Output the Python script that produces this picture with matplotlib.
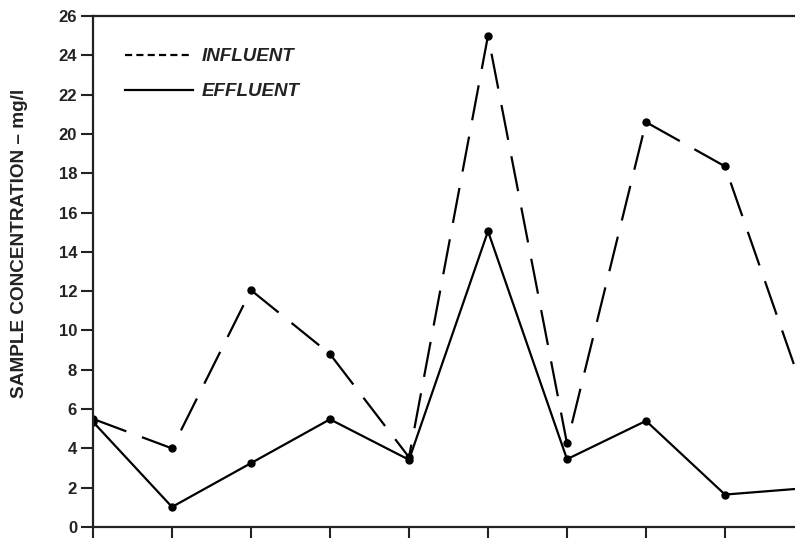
import matplotlib
matplotlib.use("Agg")
import matplotlib.pyplot as plt
from matplotlib.lines import Line2D

plt.rcParams['font.family'] = ['Liberation Sans', 'DejaVu Sans']

samples = [0, 1, 2, 3, 4, 5, 6, 7, 8, 9]
influent = [5.5, 4.0, 12.05, 8.8, 3.55, 25.0, 4.25, 20.6, 18.35, 6.8]
effluent = [5.35, 1.02, 3.25, 5.48, 3.42, 15.05, 3.45, 5.4, 1.65, 1.97]
y_ticks = list(range(0, 27, 2))

fig = plt.figure(figsize=(7.95, 5.38), dpi=100)
ax = fig.add_axes([93 / 795, 11 / 538, 1 - 93 / 795, 511 / 538])

ink = '#222222'

# influent: long dashes, dots at the samples
ax.plot(samples, influent, color='black', lw=1.6, dashes=(16, 7.5),
        marker='o', ms=5)
ax.plot(samples, effluent, color='black', lw=1.6, linestyle='-',
        marker='o', ms=5)

ax.set_xticks(samples)
ax.set_xticklabels([])
ax.set_yticks(y_ticks)
ax.set_yticklabels([str(t) for t in y_ticks], fontsize=12, fontweight='bold', color=ink)
# the last sample runs off the right edge, like the original
ax.set_xlim(0, (795 - 93) / 79.0)
ax.set_ylim(0, 26)

ax.tick_params(axis='both', direction='out', length=8.5, width=1.5, color=ink, pad=3)
for side in ['left', 'top', 'bottom']:
    ax.spines[side].set_linewidth(1.6)
    ax.spines[side].set_color(ink)
ax.spines['right'].set_visible(False)

ax.set_ylabel('SAMPLE CONCENTRATION \u2013 mg/l', fontsize=13.7, fontweight='bold',
              color=ink)
ax.yaxis.set_label_coords((28 - 93) / 702, 0.556)

handles = [Line2D([], [], color='black', lw=1.6, dashes=(3.2, 1.9)),
           Line2D([], [], color='black', lw=1.6)]
leg = ax.legend(handles, ['INFLUENT', 'EFFLUENT'], loc='upper left',
                bbox_to_anchor=(0.022, 0.97), frameon=False, handlelength=3.6,
                handletextpad=0.45, labelspacing=0.95,
                prop={'size': 13.5, 'weight': 'bold', 'style': 'italic'})
for t in leg.get_texts():
    t.set_color(ink)

fig.savefig('out.png', dpi=100)
